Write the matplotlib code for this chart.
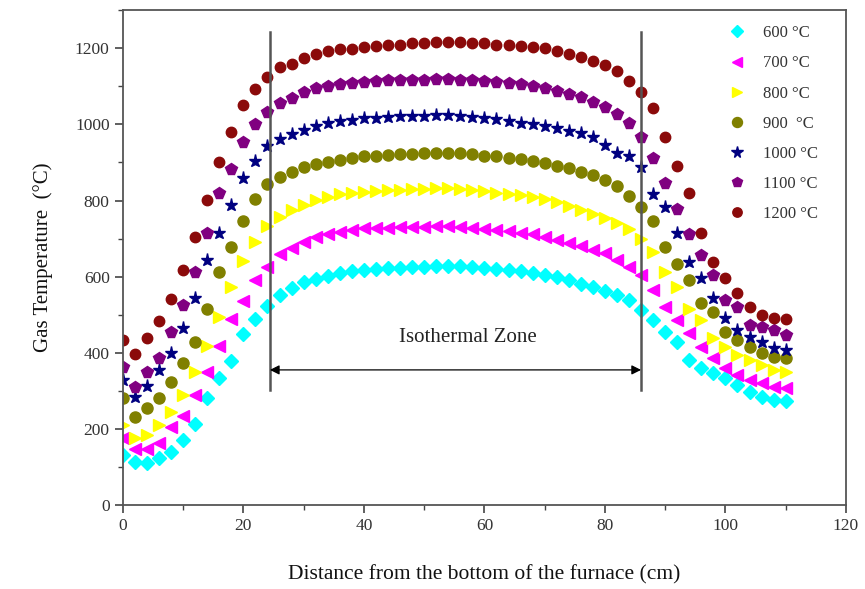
import matplotlib
matplotlib.use("Agg")
import matplotlib.pyplot as plt
from matplotlib.ticker import MultipleLocator

x_cm = list(range(0, 111, 2))

t600 = [132, 112, 110, 124, 139, 171, 213, 280, 334, 379, 450, 489, 524, 553, 570, 585, 595, 603,
        609, 614, 618, 620, 622, 624, 625, 626, 627, 628, 627, 626, 624, 621, 618, 614, 610, 605,
        598, 590, 582, 573, 563, 552, 539, 513, 487, 454, 428, 382, 361, 347, 335, 316, 296, 283,
        276, 273]
t700 = [177, 147, 148, 162, 205, 233, 289, 349, 418, 489, 537, 592, 626, 660, 676, 690, 703, 712,
        718, 723, 727, 728, 729, 730, 731, 731, 732, 732, 730, 728, 726, 723, 720, 716, 711, 705,
        697, 689, 680, 671, 663, 645, 625, 605, 566, 521, 487, 453, 416, 387, 361, 342, 329, 321,
        311, 308]
t800 = [211, 176, 184, 211, 245, 288, 349, 417, 495, 574, 642, 690, 732, 758, 776, 789, 802, 810,
        816, 820, 823, 825, 827, 829, 830, 831, 832, 833, 831, 829, 825, 821, 818, 815, 810, 803,
        795, 785, 776, 764, 755, 742, 725, 700, 666, 613, 574, 516, 487, 439, 416, 395, 382, 368,
        355, 350]
t900 = [282, 232, 255, 282, 324, 374, 429, 515, 613, 679, 747, 803, 843, 863, 876, 887, 895, 900,
        907, 912, 916, 918, 920, 922, 923, 924, 925, 925, 924, 921, 918, 916, 912, 908, 904, 899,
        890, 886, 876, 868, 855, 837, 813, 784, 747, 679, 632, 592, 532, 508, 455, 434, 416, 400,
        389, 387]
t1000 = [329, 284, 313, 355, 400, 466, 545, 645, 716, 789, 858, 905, 942, 961, 974, 986, 995, 1003,
         1008, 1012, 1016, 1018, 1020, 1021, 1022, 1023, 1024, 1025, 1023, 1019, 1016, 1013, 1009,
         1005, 1001, 997, 991, 983, 978, 967, 947, 926, 918, 889, 818, 782, 716, 639, 597, 545,
         492, 461, 442, 429, 413, 408]
t1100 = [363, 311, 350, 387, 455, 526, 611, 714, 820, 884, 953, 1000, 1032, 1055, 1070, 1084, 1095,
         1100, 1105, 1109, 1112, 1114, 1116, 1117, 1118, 1118, 1119, 1119, 1118, 1116, 1114, 1112,
         1110, 1105, 1100, 1096, 1088, 1080, 1073, 1060, 1045, 1028, 1003, 966, 913, 845, 779, 711,
         658, 605, 539, 521, 474, 468, 461, 447]
t1200 = [434, 398, 438, 483, 542, 618, 705, 802, 900, 980, 1050, 1093, 1125, 1150, 1160, 1174, 1184,
         1192, 1197, 1199, 1203, 1205, 1208, 1210, 1213, 1215, 1216, 1217, 1216, 1215, 1213, 1210,
         1208, 1206, 1204, 1200, 1193, 1185, 1176, 1166, 1155, 1140, 1113, 1084, 1042, 966, 892,
         821, 716, 639, 597, 558, 521, 500, 492, 489]

labels = ["600 \u00b0C", "700 \u00b0C", "800 \u00b0C", "900  \u00b0C", "1000 \u00b0C", "1100 \u00b0C", "1200 \u00b0C"]
series = [t600, t700, t800, t900, t1000, t1100, t1200]
colors = ["#00FFFF", "#FF00FF", "#FFFF00", "#808000", "#000080", "#800080", "#8B0A0A"]
markers = ["D", "<", ">", "o", "*", "p", "o"]
sizes = [7, 8.5, 8.5, 8, 9.5, 8.5, 7.5]

zone_x = [24.4, 86.0]
zone_y = [303, 1242]
arrow_y = 355
zone_text = "Isothermal Zone"

plt.rcParams['font.family'] = ['Liberation Serif', 'DejaVu Serif']

fig = plt.figure(figsize=(8.65, 5.89), dpi=100)
ax = fig.add_axes([0.142, 0.1426, 0.836, 0.84])

for ys, lab, c, m, s in zip(series, labels, colors, markers, sizes):
    ax.plot(x_cm, ys, linestyle='none', marker=m, color=c, markersize=s,
            markeredgecolor=c, label=lab)

for zx in zone_x:
    ax.plot([zx, zx], zone_y, color='#555555', lw=1.8, zorder=5)
ax.annotate('', xy=(zone_x[0], arrow_y), xytext=(zone_x[1], arrow_y),
            arrowprops=dict(arrowstyle='<|-|>', color='black', lw=0.9,
                            mutation_scale=14, shrinkA=0, shrinkB=0), zorder=6)
ax.text(sum(zone_x) / 2 + 2, 440, zone_text, ha='center', va='center',
        fontsize=15, color='#222222')

ax.set_xlim(0, 120)
ax.set_ylim(0, 1300)
ax.xaxis.set_major_locator(MultipleLocator(20))
ax.xaxis.set_minor_locator(MultipleLocator(10))
ax.yaxis.set_major_locator(MultipleLocator(200))
ax.yaxis.set_minor_locator(MultipleLocator(100))
ax.tick_params(which='major', direction='out', length=6, width=1.2, colors='#444444',
               labelsize=12.5, labelcolor='#333333')
ax.tick_params(which='minor', direction='out', length=3.5, width=1.0, colors='#444444')
for sp in ax.spines.values():
    sp.set_color('#555555')
    sp.set_linewidth(1.3)

ax.set_xlabel("Distance from the bottom of the furnace (cm)", fontsize=15.5, color='#111111',
              labelpad=22)
ax.set_ylabel("Gas Temperature  (\u00b0C)", fontsize=15, color='#111111', labelpad=16)

ax.legend(loc='upper left', bbox_to_anchor=(0.805, 1.0), frameon=False, fontsize=12,
          labelspacing=0.85, handletextpad=0.6, markerscale=0.9, labelcolor='#333333')

fig.savefig("out.png", dpi=100)
